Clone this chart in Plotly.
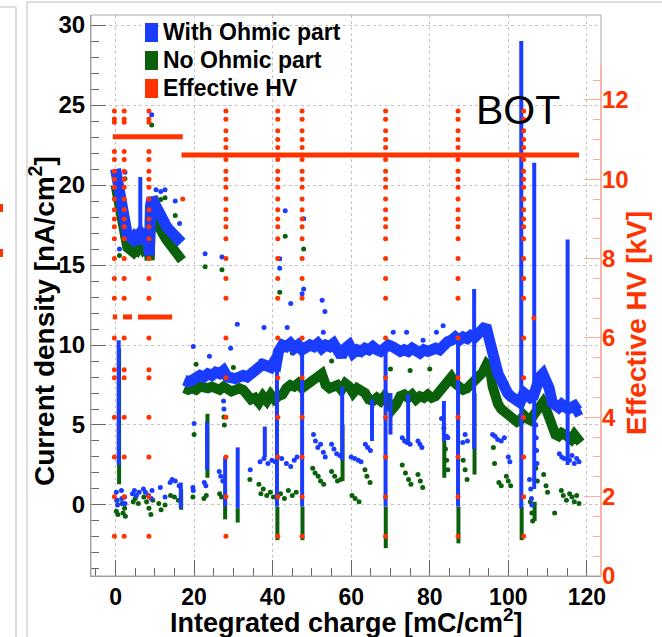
import plotly.graph_objects as go

# ---------------- data ----------------
# "With Ohmic part" (blue) main band, early part and late part
blue_band1_x = [0.0, 0.3, 0.6, 1.0, 1.4, 1.8, 2.2, 2.6, 3.0, 3.5, 4.0, 4.5, 5.0, 5.5, 6.0, 6.3, 6.8, 7.3, 7.8, 8.3, 8.6,
                8.9, 9.3, 9.8, 10.3, 10.8, 11.3, 11.8, 12.3, 12.8, 13.3, 13.8, 14.3, 14.8, 15.3, 15.8, 16.3, 16.8]
blue_band1_y = [21.0, 20.6, 20.2, 19.6, 18.8, 18.2, 17.5, 17.1, 16.9, 16.8, 16.7, 16.6, 16.8, 16.7, 16.9, 17.0, 16.8, 16.9, 17.1, 16.6, 15.6,
                18.7, 19.2, 18.9, 18.6, 18.4, 18.2, 17.9, 17.7, 17.5, 17.3, 17.2, 17.0, 16.9, 16.7, 16.6, 16.5, 16.4]
blue_band2_x = [17.5, 18.5, 19.5, 20.5, 21.5, 22.5, 23.5, 24.5, 25.5, 26.5, 27.5, 28.5, 29.5, 30.5, 31.5, 32.5, 33.5, 34.5,
                35.5, 36.5, 37.5, 38.5, 39.5, 40.5, 41.0, 41.5, 42.5, 43.5, 44.5, 45.5, 46.5, 47.5, 48.5, 49.5, 50.5, 51.5,
                52.5, 53.5, 54.5, 55.5, 56.5, 57.5, 58.5, 59.5, 60.5, 61.5, 62.5, 63.5, 64.5, 65.5, 66.5, 67.5, 68.5, 69.5,
                70.5, 71.5, 72.5, 73.5, 74.5, 75.5, 76.5, 77.5, 78.5, 79.5, 80.5, 81.5, 82.5, 83.5, 84.5, 85.5, 86.5, 87.5,
                88.5, 89.5, 90.5, 91.5, 92.5, 93.5, 94.3, 95.0, 95.8, 96.6, 97.4, 98.2, 99.0, 99.8, 100.6, 101.4, 102.2,
                103.0, 104.0, 104.8, 105.6, 106.4, 107.2, 108.0, 108.8, 109.6, 110.4, 111.2, 112.0, 112.8, 113.6, 114.4,
                115.2, 116.0, 116.8, 117.6, 118.4]
blue_band2_y = [7.8, 7.7, 7.8, 8.0, 8.1, 8.0, 8.2, 8.1, 8.3, 8.2, 8.4, 8.0, 7.9, 7.9, 8.0, 8.1, 8.0, 8.2,
                8.3, 8.5, 8.8, 8.7, 8.6, 9.0, 8.9, 9.6, 10.0, 9.9, 10.1, 9.8, 10.0, 9.7, 9.9, 10.0, 9.9, 10.1,
                9.8, 10.0, 9.9, 10.1, 9.7, 9.3, 9.8, 10.0, 9.5, 9.7, 9.6, 9.8, 9.7, 9.9, 9.7, 9.6, 9.8, 10.0,
                9.9, 9.8, 9.6, 9.7, 9.6, 9.8, 9.6, 9.5, 9.7, 9.6, 9.7, 9.8, 9.7, 10.1, 10.2, 10.3, 10.5, 10.3,
                10.5, 10.4, 10.6, 10.5, 10.8, 11.0, 11.2, 10.5, 9.6, 8.8, 8.2, 7.8, 7.3, 7.0, 6.8, 6.6, 6.5,
                6.4, 7.0, 6.8, 6.7, 6.8, 7.5, 8.0, 8.2, 7.9, 7.3, 6.4, 6.2, 6.1, 6.3, 6.2,
                6.0, 6.1, 6.2, 5.9, 6.0]

# "No Ohmic part" (green) main band
green_band1_x = [0.0, 0.3, 0.6, 1.0, 1.4, 1.8, 2.2, 2.6, 3.0, 3.5, 4.0, 4.5, 5.0, 5.5, 6.0, 6.5, 7.0, 7.5, 8.0, 8.4, 8.7,
                 9.0, 9.4, 9.9, 10.4, 10.9, 11.4, 11.9, 12.4, 12.9, 13.4, 13.9, 14.4, 14.9, 15.4, 15.9, 16.4, 16.9]
green_band1_y = [20.0, 19.6, 19.1, 18.5, 17.8, 17.1, 16.6, 16.3, 16.1, 16.0, 15.9, 15.8, 16.0, 15.9, 16.1, 16.2, 16.0, 16.2, 16.3, 15.9, 15.3,
                 18.0, 18.1, 17.9, 17.6, 17.4, 17.2, 17.0, 16.8, 16.6, 16.4, 16.2, 16.0, 15.9, 15.7, 15.6, 15.4, 15.3]
green_band2_x = [17.5, 18.5, 19.5, 20.5, 21.5, 22.5, 23.5, 24.5, 25.5, 26.5, 27.5, 28.5, 29.5, 30.5, 31.5, 32.5, 33.5, 34.5,
                 35.5, 36.5, 37.5, 38.5, 39.5, 40.5, 41.5, 42.5, 43.5, 44.5, 45.5, 46.5, 47.5, 48.5, 49.5, 50.5, 51.5, 52.5,
                 53.5, 54.5, 55.5, 56.5, 57.5, 58.5, 59.5, 60.5, 61.5, 62.5, 63.5, 64.5, 65.5, 66.5, 67.5, 68.5, 69.5, 70.5,
                 71.5, 72.5, 73.5, 74.5, 75.5, 76.5, 77.5, 78.5, 79.5, 80.5, 81.5, 82.5, 83.5, 84.5, 85.5, 86.5, 87.5, 88.5,
                 89.5, 90.5, 91.5, 92.5, 93.5, 94.5, 95.3, 96.0, 96.6, 97.4, 98.2, 99.0, 99.8, 100.6, 101.4, 102.2, 103.0,
                 104.0, 104.8, 105.6, 106.4, 107.2, 108.0, 108.8, 109.6, 110.4, 111.2, 112.0, 112.8, 113.6, 114.4, 115.2,
                 116.0, 116.8, 117.6, 118.4]
green_band2_y = [7.3, 7.2, 7.3, 7.2, 7.4, 7.3, 7.3, 7.4, 7.3, 7.2, 7.4, 7.3, 7.1, 7.2, 7.3, 7.2, 6.9, 6.6,
                 6.7, 6.4, 6.8, 6.5, 6.9, 6.6, 6.8, 6.9, 7.3, 7.5, 7.4, 7.6, 7.3, 7.5, 7.6, 7.7, 8.0, 8.2,
                 7.5, 7.3, 7.4, 7.5, 7.2, 7.6, 7.4, 7.0, 7.3, 7.2, 7.0, 6.6, 6.5, 6.7, 6.5, 6.8, 6.4, 6.0,
                 6.3, 6.8, 6.9, 6.7, 6.9, 6.6, 6.8, 6.7, 6.9, 6.7, 6.8, 7.1, 7.6, 7.9, 8.0, 7.6, 7.4, 7.2,
                 7.3, 7.5, 7.8, 8.0, 8.3, 8.8, 8.6, 7.4, 6.8, 6.3, 6.0, 5.8, 5.6, 5.5, 5.3, 5.2, 5.3,
                 5.6, 5.4, 5.3, 5.6, 5.8, 6.2, 6.4, 6.0, 5.4, 4.7, 4.4, 4.3, 4.5, 4.4, 4.2,
                 4.1, 4.4, 4.0, 3.9]

# vertical streaks of points: position, lowest value, highest value
blue_col_x = [0.8, 6.3, 16.6, 23.3, 27.9, 31.1, 38.0, 41.1, 47.5, 57.7, 65.3, 68.75, 70.0, 74.5, 83.6, 87.2, 91.3, 103.3, 106.6, 115.1]
blue_col_lo = [2.5, 16.6, -0.2, 2.2, -0.1, -0.2, 3.0, -0.1, -0.1, 2.8, 4.0, -0.1, 4.4, 3.8, 4.0, -0.1, 3.5, -0.2, 1.0, 2.5]
blue_col_hi = [10.3, 20.5, 1.4, 5.2, 3.0, 3.6, 4.9, 8.8, 9.8, 7.4, 6.6, 9.8, 7.0, 6.9, 6.5, 10.3, 13.5, 29.0, 21.4, 16.6]
green_col_x = [0.9, 16.7, 23.4, 27.9, 31.1, 41.2, 47.6, 57.8, 68.8, 83.7, 87.3, 91.4, 103.4, 106.7]
green_col_lo = [1.3, -0.3, 1.7, -0.9, -1.1, -2.2, -2.2, 1.5, -2.7, 1.7, -2.4, 1.9, -2.2, -1.0]
green_col_hi = [9.8, 1.0, 5.7, 0.3, -0.2, -0.1, -0.1, 5.0, -0.1, 4.0, -0.1, 7.0, -0.1, 0.2]

# isolated points
blue_pts_x = [0.2, 0.3, 0.5, 1.5, 1.6, 1.9, 2.3, 2.4, 4.3, 4.8, 5.3, 6.0, 7.1, 7.6, 8.4, 9.1, 9.3,
              11.4, 12.6, 13.9, 14.4, 15.2, 16.2, 19.7, 19.8, 20.0, 22.6, 23.0, 26.4, 26.8, 27.3, 27.5, 27.6,
              34.3, 36.8, 37.8, 38.8, 39.8, 40.6, 42.3, 43.5, 44.6, 45.5, 46.2,
              50.4, 50.9, 51.5, 52.2, 52.9, 53.4, 55.0, 55.6, 56.3, 57.1, 60.0, 60.9, 61.8, 62.5, 63.6, 64.2, 64.9,
              73.0, 73.6, 74.2, 75.0, 77.0, 77.5, 78.0, 83.0, 83.6, 84.3, 84.6, 88.4, 89.0, 89.6,
              96.0, 96.6, 97.3, 98.2, 99.0, 100.0, 100.4, 105.4, 105.7, 105.9, 106.0, 107.0, 107.1, 107.2, 107.3,
              113.0, 113.6, 114.2, 115.6, 116.2, 116.8, 117.4, 118.0,
              2.4, 1.0, 9.2, 10.3, 11.5, 12.6, 15.2, 16.3, 22.8, 27.1, 43.2, 41.8, 41.8, 47.9, 47.9,
              19.8, 23.9, 29.3, 31.0, 37.8, 43.7, 47.5, 52.6, 52.9, 44.6, 53.3, 70.7, 74.1, 78.3, 81.7, 83.4]
blue_pts_y = [0.8, 0.3, 0.0, 0.9, 0.4, 0.1, 0.5, 0.1, 0.7, 0.9, 0.6, 0.8, 1.0, 0.8, 0.6, 0.4, 0.9,
              1.1, 0.5, 1.4, 1.6, 1.5, 1.2, 1.1, 0.9, 5.1, 1.4, 1.2, 2.1, 1.8, 1.5, 6.5, 6.0,
              2.2, 2.7, 2.9, 2.6, 2.8, 2.7, 2.9, 2.6, 2.4, 2.8, 3.0,
              4.4, 4.0, 3.6, 3.8, 3.3, 3.0, 3.8, 3.5, 3.2, 3.1, 3.0, 2.9, 2.8, 2.7, 3.8, 3.6, 3.4,
              4.2, 4.0, 3.9, 3.8, 4.0, 3.8, 3.6, 5.4, 4.8, 4.3, 4.2, 3.9, 4.4, 4.0,
              4.4, 4.3, 4.1, 4.0, 4.2, 3.0, 2.7, 1.6, 1.0, 0.4, 0.0, 5.0, 4.2, 3.4, 2.6,
              3.2, 3.0, 2.9, 2.8, 3.1, 2.6, 2.9, 2.7,
              20.8, 16.0, 24.4, 19.7, 19.6, 19.7, 19.0, 17.6, 15.7, 15.5, 18.4, 15.4, 14.8, 17.9, 13.5,
              9.9, 9.3, 9.8, 11.3, 11.1, 11.1, 13.2, 12.8, 10.8, 12.6, 12.1, 10.8, 10.8, 10.3, 10.8, 11.2]
green_pts_x = [0.2, 0.4, 0.6, 1.6, 1.9, 2.3, 2.5, 4.5, 5.0, 5.8, 7.2, 7.9, 8.5, 9.0, 9.5,
               11.0, 11.6, 12.6, 14.0, 15.0, 16.0, 19.7, 20.0, 22.5, 23.1, 26.5, 27.0, 27.6, 27.7,
               34.2, 36.5, 37.0, 37.6, 38.5, 39.4, 40.2, 42.0, 43.0, 44.0, 45.0, 46.0,
               50.2, 50.8, 51.6, 52.2, 53.0, 55.0, 55.8, 56.5, 57.3, 60.2, 61.0, 62.0, 63.5, 64.0, 64.8,
               73.0, 73.8, 74.6, 75.2, 77.0, 77.6, 78.2, 84.0, 84.3, 84.6, 88.5, 89.0, 89.5,
               96.2, 96.5, 97.6, 98.2, 99.5, 100.0, 100.6, 105.6, 106.0, 106.2,
               107.0, 107.4, 109.0, 109.6, 110.0, 111.8,
               113.5, 114.0, 114.8, 115.6, 116.2, 116.8, 117.4, 118.0,
               2.4, 1.0, 9.2, 10.3, 11.5, 12.6, 15.2, 22.8, 27.1, 43.2, 41.8, 47.9,
               20.5, 30.0, 37.0, 43.0, 45.0, 55.0, 62.0, 70.0, 75.0, 80.0]
green_pts_y = [-0.4, 0.3, -0.6, 0.1, -0.5, -0.2, -0.7, 0.2, 0.4, 0.1, 0.5, 0.2, -0.2, -0.6, 0.3,
               0.1, -0.3, 0.0, 0.6, 0.5, 0.3, 0.5, 4.4, 0.4, 0.6, 0.7, 0.5, 5.5, 5.0,
               1.6, 1.3, 0.7, 1.0, 0.6, 0.8, 0.5, 0.7, 0.4, 0.9, 0.6, 0.8,
               2.3, 2.0, 1.8, 1.5, 1.3, 2.1, 1.8, 1.5, 1.6, 0.6, 0.4, 0.2, 2.2, 1.8, 1.4,
               2.5, 2.0, 1.6, 1.3, 1.9, 1.5, 1.1, 3.5, 2.8, 2.2, 2.8, 2.2, 1.6,
               3.6, 2.6, 1.4, 1.2, 1.8, 1.5, 1.2, 0.2, -0.5, -1.0,
               2.3, 1.5, 1.9, 1.2, 0.8, -0.5,
               0.9, 0.6, 0.3, 0.7, 0.5, 0.2, 0.6, 0.1,
               20.4, 15.6, 23.75, 19.2, 19.1, 19.2, 18.1, 14.9, 14.7, 16.8, 13.3, 16.0,
               8.8, 8.6, 9.0, 9.7, 9.5, 9.0, 9.4, 8.5, 8.4, 8.5]

# Effective HV [kV]: plateaus (start, end, level)
hv_seg_x0 = [-0.7, 1.9, 5.7, -0.7, 16.8]
hv_seg_x1 = [0.4, 4.2, 14.4, 17.1, 118.0]
hv_seg_lv = [6.53, 6.53, 6.53, 11.07, 10.61]
# HV ramps: columns of points at these charges and levels
hv_col_x_early = [-0.3, 2.2, 8.5]
hv_levels_early = [11.72, 11.52, 11.44, 10.7, 10.5, 10.2, 10.0, 9.8, 9.5, 9.23, 9.0, 8.8, 8.5, 8.0,
                   7.5, 7.0, 6.0, 5.2, 5.0, 4.0, 3.0, 2.0, 1.0]
hv_col_x_late = [28.1, 41.3, 47.5, 68.75, 87.2, 103.9]
hv_levels_late = [11.72, 11.51, 11.22, 11.0, 10.8, 10.5, 10.2, 10.0, 9.8, 9.5, 9.23, 9.0, 8.8, 8.5, 8.0,
                  7.5, 7.0, 6.0, 5.0, 4.0, 3.0, 2.0, 1.0]
hv_extra_x = [17.1, 106.5]
hv_extra_y = [9.5, 6.5]

legend_labels = ["With Ohmic part", "No Ohmic part", "Effective HV"]

# ---------------- style ----------------
BLUE = "#1a3cff"
GREEN = "#0b610b"
RED = "#ff3300"
RED_AXIS = "#ffab9c"
FONT = "Liberation Sans"

W, H = 662, 637
L, R, T, B = 91, 61, 15, 61


def px2x(px):
    return (px - L) / (W - L - R)


def py2y(py):
    return (H - B - py) / (H - T - B)


def join(xs_list, ys_list):
    X, Y = [], []
    for xs, ys in zip(xs_list, ys_list):
        X += list(xs) + [None]
        Y += list(ys) + [None]
    return X, Y


def cols(xs, lo, hi):
    X, Y = [], []
    for x, a, b in zip(xs, lo, hi):
        X += [x, x, None]
        Y += [a, b, None]
    return X, Y


fig = go.Figure()

# green (No Ohmic part)
gx, gy = join([green_band1_x, green_band2_x], [green_band1_y, green_band2_y])
fig.add_trace(go.Scatter(x=gx, y=gy, mode="lines", line=dict(color=GREEN, width=10), hoverinfo="skip"))
cx, cy = cols(green_col_x, green_col_lo, green_col_hi)
fig.add_trace(go.Scatter(x=cx, y=cy, mode="lines", line=dict(color=GREEN, width=4), hoverinfo="skip"))
fig.add_trace(go.Scatter(x=green_pts_x, y=green_pts_y, mode="markers",
                         marker=dict(color=GREEN, size=5), name=legend_labels[1]))

# blue (With Ohmic part)
bx, by = join([blue_band1_x, blue_band2_x], [blue_band1_y, blue_band2_y])
fig.add_trace(go.Scatter(x=bx, y=by, mode="lines", line=dict(color=BLUE, width=11), hoverinfo="skip"))
cx, cy = cols(blue_col_x, blue_col_lo, blue_col_hi)
fig.add_trace(go.Scatter(x=cx, y=cy, mode="lines", line=dict(color=BLUE, width=4), hoverinfo="skip"))
fig.add_trace(go.Scatter(x=blue_pts_x, y=blue_pts_y, mode="markers",
                         marker=dict(color=BLUE, size=5), name=legend_labels[0]))

# red (Effective HV) on right axis
sx, sy = [], []
for a, b, v in zip(hv_seg_x0, hv_seg_x1, hv_seg_lv):
    sx += [a, b, None]
    sy += [v, v, None]
fig.add_trace(go.Scatter(x=sx, y=sy, mode="lines", line=dict(color=RED, width=5), yaxis="y2", hoverinfo="skip"))
rx, ry = [], []
for x in hv_col_x_early:
    for v in hv_levels_early:
        rx.append(x)
        ry.append(v)
for x in hv_col_x_late:
    for v in hv_levels_late:
        rx.append(x)
        ry.append(v)
rx += hv_extra_x
ry += hv_extra_y
fig.add_trace(go.Scatter(x=rx, y=ry, mode="markers", marker=dict(color=RED, size=5),
                         yaxis="y2", name=legend_labels[2]))

tickfont = dict(family=FONT, size=23, color="black", weight="bold")
hv_top = 12.88
hv_full = hv_top * (H - B - T) / (H - B - 65)

fig.update_layout(
    width=W, height=H, autosize=False,
    margin=dict(l=L, r=R, t=T, b=B, pad=0),
    paper_bgcolor="white", plot_bgcolor="white", showlegend=False,
    xaxis=dict(range=[-6.25, 123.6], tickvals=[0, 20, 40, 60, 80, 100, 120], ticks="inside", ticklen=16,
               tickcolor="#666", tickwidth=1, showline=True, linecolor="#999", zeroline=False,
               showgrid=True, gridcolor="#c4c4c4", griddash="dot", gridwidth=1, tickfont=tickfont,
               minor=dict(dtick=5, tick0=0, ticks="inside", ticklen=8, tickcolor="#666", showgrid=False)),
    yaxis=dict(range=[-4.44, 30.63], tickvals=[0, 5, 10, 15, 20, 25, 30], ticks="inside", ticklen=15,
               tickcolor="#666", tickwidth=1, showline=True, linecolor="#999", zeroline=False,
               showgrid=True, gridcolor="#c4c4c4", griddash="dot", gridwidth=1,
               tickfont=dict(family=FONT, size=24, color="black", weight="bold"),
               minor=dict(dtick=1, tick0=0, ticks="inside", ticklen=8, tickcolor="#666", showgrid=False)),
    yaxis2=dict(overlaying="y", side="right", range=[0, hv_full], tickvals=[0, 2, 4, 6, 8, 10, 12],
                ticks="inside", ticklen=17, tickcolor=RED_AXIS, tickwidth=1, showline=False,
                showgrid=False, zeroline=False,
                tickfont=dict(family=FONT, size=24, color=RED, weight="bold"),
                minor=dict(tickvals=[v * 0.5 for v in range(1, 26) if v % 4 != 0], ticks="inside", ticklen=8,
                           tickcolor=RED_AXIS, showgrid=False)),
)

shapes = []
# frame
shapes.append(dict(type="rect", xref="paper", yref="paper", x0=0, x1=1, y0=0, y1=1,
                   line=dict(color="#a8a8a8", width=1), layer="above"))
# red right axis line
shapes.append(dict(type="line", xref="paper", yref="y2", x0=1, x1=1, y0=0, y1=hv_top,
                   line=dict(color=RED_AXIS, width=1.5), layer="above"))
# legend boxes
for i, c in enumerate([BLUE, GREEN, RED]):
    top = 23 + 28 * i
    shapes.append(dict(type="rect", xref="paper", yref="paper", x0=px2x(145), x1=px2x(158),
                       y0=py2y(top + 19), y1=py2y(top), fillcolor=c, line=dict(width=0), layer="above"))
# neighbouring panel borders
shapes.append(dict(type="line", xref="paper", yref="paper", x0=px2x(16), x1=px2x(16), y0=py2y(7), y1=py2y(640),
                   line=dict(color="#bdbdbd", width=1)))
shapes.append(dict(type="line", xref="paper", yref="paper", x0=px2x(-2), x1=px2x(16), y0=py2y(7), y1=py2y(7),
                   line=dict(color="#bdbdbd", width=1)))
shapes.append(dict(type="line", xref="paper", yref="paper", x0=px2x(27), x1=px2x(27), y0=py2y(2), y1=py2y(640),
                   line=dict(color="#bdbdbd", width=1)))
shapes.append(dict(type="line", xref="paper", yref="paper", x0=px2x(27), x1=px2x(664), y0=py2y(2), y1=py2y(2),
                   line=dict(color="#bdbdbd", width=1)))
for yy in (204, 249):
    shapes.append(dict(type="rect", xref="paper", yref="paper", x0=px2x(-1), x1=px2x(3), y0=py2y(yy + 8),
                       y1=py2y(yy), fillcolor=RED, line=dict(width=0)))
fig.update_layout(shapes=shapes)

ann = []
ann.append(dict(text="Integrated charge [mC/cm<sup>2</sup>]", xref="paper", yref="paper", x=0.5, y=py2y(621),
                xanchor="center", yanchor="middle", showarrow=False,
                font=dict(family=FONT, size=27, color="black", weight="bold")))
ann.append(dict(text="Current density [nA/cm<sup>2</sup>]", xref="paper", yref="paper", x=px2x(42), y=py2y(321),
                xanchor="center", yanchor="middle", showarrow=False, textangle=-90,
                font=dict(family=FONT, size=28, color="black", weight="bold")))
ann.append(dict(text="Effective HV [kV]", xref="paper", yref="paper", x=px2x(636), y=py2y(323),
                xanchor="center", yanchor="middle", showarrow=False, textangle=-90,
                font=dict(family=FONT, size=28, color=RED, weight="bold")))
ann.append(dict(text="BOT", xref="paper", yref="paper", x=px2x(518), y=py2y(110),
                xanchor="center", yanchor="middle", showarrow=False,
                font=dict(family=FONT, size=41, color="black")))
for i, lab in enumerate(legend_labels):
    ann.append(dict(text=lab, xref="paper", yref="paper", x=px2x(161), y=py2y(32 + 28 * i),
                    xanchor="left", yanchor="middle", showarrow=False,
                    font=dict(family=FONT, size=23, color="black", weight="bold")))
fig.update_layout(annotations=ann)

fig.write_html("out.html")
